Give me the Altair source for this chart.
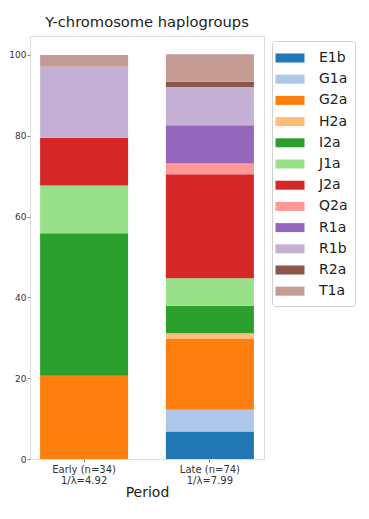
import altair as alt
import pandas as pd

periods = ["Early (n=34)\n1/λ=4.92", "Late (n=74)\n1/λ=7.99"]
haplogroups = ["E1b", "G1a", "G2a", "H2a", "I2a", "J1a", "J2a", "Q2a", "R1a", "R1b", "R2a", "T1a"]
colors = ["#1f77b4", "#aec7e8", "#ff7f0e", "#ffbb78", "#2ca02c", "#98df8a",
          "#d62728", "#ff9896", "#9467bd", "#c5b0d5", "#8c564b", "#c49c94"]
early_pct = [0.0, 0.0, 20.6, 0.0, 35.3, 11.8, 11.8, 0.0, 0.0, 17.6, 0.0, 2.9]
late_pct = [6.8, 5.4, 17.6, 1.35, 6.8, 6.8, 25.7, 2.7, 9.45, 9.45, 1.35, 6.8]

rows = []
for p, vals in zip(periods, [early_pct, late_pct]):
    for i, (h, v) in enumerate(zip(haplogroups, vals)):
        if v > 0:
            rows.append({"period": p, "haplogroup": h, "pct": v, "idx": i})
df = pd.DataFrame(rows)

legend_shape = "M-1.35,-0.45H1.55V0.45H-1.35Z"

chart = alt.Chart(df).mark_bar(size=88).encode(
    x=alt.X("period:N", sort=periods, title="Period",
            scale=alt.Scale(paddingInner=0.3, paddingOuter=0.08),
            axis=alt.Axis(labelAngle=0, labelExpr="split(datum.label, '\\n')",
                          labelFontSize=10, labelColor="#333", titleFontSize=14,
                          titleFontWeight="normal", titleColor="#222", tickSize=3,
                          domain=False, tickColor="#888", labelLineHeight=11,
                          titlePadding=0)),
    y=alt.Y("pct:Q", stack="zero", title=None,
            scale=alt.Scale(domain=[0, 104.7], nice=False),
            axis=alt.Axis(values=[0, 20, 40, 60, 80, 100], labelFontSize=9,
                          labelColor="#333", tickSize=3, domain=False,
                          tickColor="#888", grid=False, labelPadding=1)),
    color=alt.Color("haplogroup:N", sort=haplogroups,
                    scale=alt.Scale(domain=haplogroups, range=colors),
                    legend=alt.Legend(title=None, orient="none", legendX=242, legendY=5,
                                      symbolType=legend_shape, symbolSize=400,
                                      symbolStrokeWidth=0, symbolOpacity=1,
                                      labelFontSize=14, labelColor="#222",
                                      labelOffset=20, rowPadding=4.2,
                                      strokeColor="#d0d0d0", cornerRadius=3,
                                      padding=7, fillColor="white")),
    order=alt.Order("idx:Q", sort="ascending"),
).properties(
    width=234, height=423,
    title=alt.TitleParams("Y-chromosome haplogroups", fontSize=14.7,
                          fontWeight="normal", color="#222", offset=6),
    autosize=alt.AutoSizeParams(type="none"),
    padding={"left": 22, "top": 28, "right": 95, "bottom": 50},
).configure_view(stroke="#b8b8b8", strokeWidth=1).configure(
    font="DejaVu Sans"
)

chart.save("out.html", embed_options={"renderer": "svg", "actions": False})
